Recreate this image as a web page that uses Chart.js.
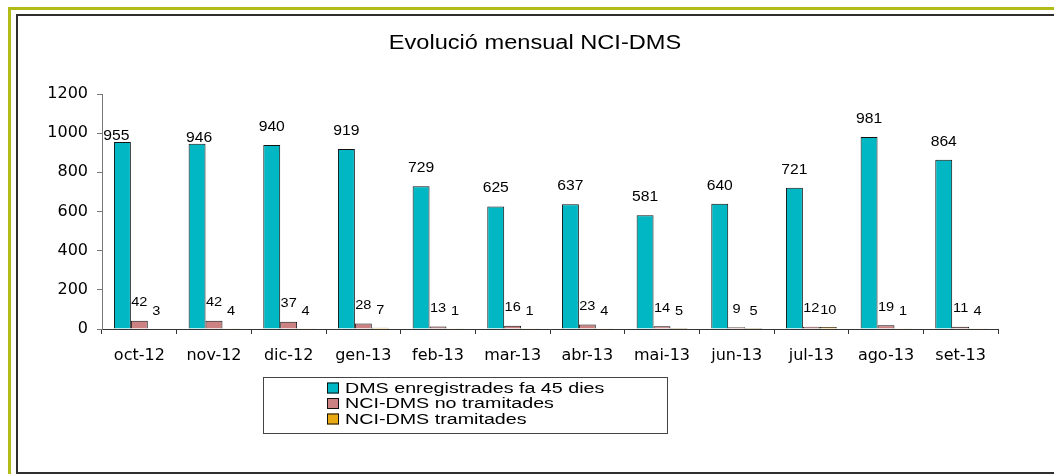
<!DOCTYPE html>
<html><head><meta charset="utf-8">
<script src="https://cdn.jsdelivr.net/npm/chart.js@4/dist/chart.umd.min.js"></script>
<style>html,body{margin:0;padding:0;background:#fff;}canvas{display:block}</style>
</head><body>
<canvas id="c" width="1054" height="474"></canvas>
<script>
// ---- data ----
const categories = ['oct-12','nov-12','dic-12','gen-13','feb-13','mar-13','abr-13','mai-13','jun-13','jul-13','ago-13','set-13'];
const dmsRegistrades = [955,946,940,919,729,625,637,581,640,721,981,864];
const nciNoTramitades = [42,42,37,28,13,16,23,14,9,12,19,11];
const nciTramitades = [3,4,4,7,1,1,4,5,5,10,1,4];
const seriesNames = ['DMS enregistrades fa 45 dies','NCI-DMS no tramitades','NCI-DMS tramitades'];
const yTickValues = [0,200,400,600,800,1000,1200];
const titleText = 'Evolució mensual NCI-DMS';

// ---- style ----
const colors = ['#00B7C3','#CC8282','#E8A912'];
const labelLift = [18,18,17];               // px above bar top (label centre)
const firstSeriesNudge = {0:{dx:-6,lift:6},1:{dx:2,lift:6}};

function stretchedText(ctx, text, x, y, font, sx, align){
  ctx.save();
  ctx.font = font;
  ctx.textBaseline = 'middle';
  const w = ctx.measureText(text).width * sx;
  let left = x;
  if (align === 'center') left = x - w/2;
  else if (align === 'right') left = x - w;
  ctx.translate(left, y);
  ctx.scale(sx, 1);
  ctx.textAlign = 'left';
  ctx.fillText(text, 0, 0);
  ctx.restore();
}

const decorPlugin = {
  id: 'decor',
  beforeDraw(chart){
    const ctx = chart.ctx;
    ctx.save();
    ctx.fillStyle = '#fff';
    ctx.fillRect(0,0,chart.width,chart.height);
    // outer olive frame
    ctx.fillStyle = '#B2BB18';
    ctx.fillRect(8,7,chart.width-8,3);
    ctx.fillRect(8,7,3,chart.height-7);
    // inner dark frame
    ctx.fillStyle = '#2e2e2e';
    ctx.fillRect(16,14,chart.width-16,2);
    ctx.fillRect(16,14,2,chart.height-14);
    ctx.fillRect(16,chart.height-2,chart.width-16,2);
    ctx.restore();
  },
  afterDraw(chart){
    const ctx = chart.ctx;
    ctx.save();
    ctx.fillStyle = '#000';
    // title
    stretchedText(ctx, titleText, 535, 43, '20px "Liberation Sans"', 1.18, 'center');
    // data labels
    chart.data.datasets.forEach((ds, di) => {
      const meta = chart.getDatasetMeta(di);
      meta.data.forEach((bar, i) => {
        let lift = labelLift[di], dx = 0;
        if (di === 0 && firstSeriesNudge[i]) { lift = firstSeriesNudge[i].lift; dx = firstSeriesNudge[i].dx; }
        const font = di === 0 ? '14px "Liberation Sans"' : '13px "Liberation Sans"';
        stretchedText(ctx, String(ds.data[i]), bar.x + dx, bar.y - lift, font, 1.12, 'center');
      });
    });
    // legend box
    const bx = 263, by = 377, bw = 404, bh = 56;
    ctx.strokeStyle = '#444';
    ctx.lineWidth = 1;
    ctx.strokeRect(bx+0.5, by+0.5, bw, bh);
    chart.data.datasets.forEach((ds, di) => {
      const cy = 388 + di*15.5;
      ctx.fillStyle = ds.backgroundColor;
      ctx.fillRect(327, cy-5.5, 12, 11);
      ctx.strokeStyle = '#111';
      ctx.strokeRect(327.5, cy-5, 11, 10);
      ctx.fillStyle = '#000';
      stretchedText(ctx, ds.label, 345, cy+0.5, '15.5px "Liberation Sans"', 1.27, 'left');
    });
    ctx.restore();
  }
};

const datasets = [dmsRegistrades, nciNoTramitades, nciTramitades].map((d, i) => ({
  label: seriesNames[i],
  data: d,
  backgroundColor: colors[i],
  borderColor: '#111',
  borderWidth: 1,
  borderSkipped: 'bottom',
  categoryPercentage: 0.68,
  barPercentage: 1.0
}));

new Chart(document.getElementById('c'), {
  type: 'bar',
  data: { labels: categories, datasets },
  plugins: [decorPlugin],
  options: {
    responsive: false,
    devicePixelRatio: 1,
    animation: false,
    layout: { padding: { left: 0, right: 56, top: 94, bottom: 105 } },
    plugins: { legend: { display: false }, title: { display: false }, tooltip: { enabled: false } },
    scales: {
      x: {
        grid: { display: true, drawOnChartArea: false, drawTicks: true, tickLength: 5, color: '#333', offset: true },
        border: { display: true, color: '#333', width: 1 },
        ticks: { color: '#000', font: { family: 'DejaVu Sans', size: 16 }, padding: 12, maxRotation: 0, autoSkip: false },
        afterFit: s => { s.height = 40; }
      },
      y: {
        min: 0, max: 1200,
        afterBuildTicks: s => { s.ticks = yTickValues.map(v => ({ value: v })); },
        grid: { display: true, drawOnChartArea: false, drawTicks: true, tickLength: 5, color: '#777' },
        border: { display: true, color: '#777', width: 1 },
        ticks: { color: '#000', font: { family: 'DejaVu Sans', size: 16 }, padding: 9, callback: v => String(v) },
        afterFit: s => { s.width = 102; }
      }
    }
  }
});
</script>
</body></html>
